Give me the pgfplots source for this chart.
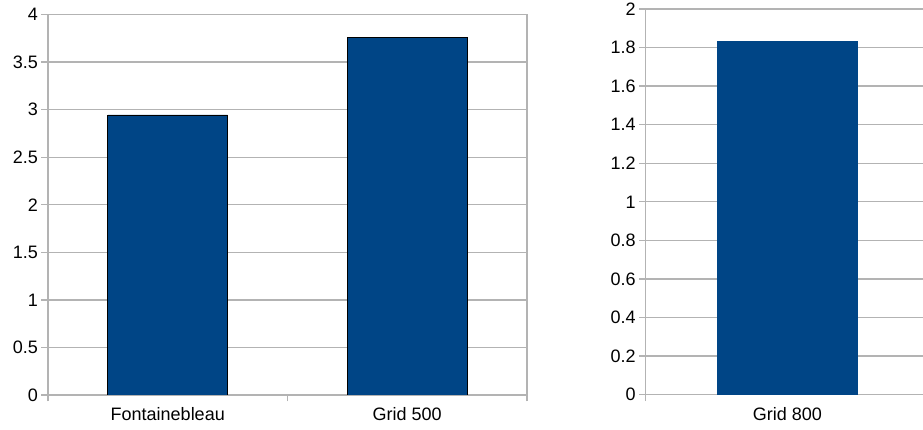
\documentclass[border=0pt]{standalone}
\usepackage{fontspec}
\setmainfont{Liberation Sans}
\usepackage{pgfplots}
\pgfplotsset{compat=1.18}
\definecolor{barblue}{HTML}{004586}
\definecolor{gridgray}{HTML}{B3B3B3}

\pgfplotsset{
  lochart/.style={
    scale only axis,
    anchor=south west,
    ybar,
    bar width=0.5,
    ymin=0,
    axis line style={draw=gridgray, line width=1.3pt},
    ymajorgrids,
    grid style={draw=gridgray, line width=1.3pt},
    tick style={draw=gridgray, line width=1.3pt},
    tick align=outside,
    xtick pos=bottom, ytick pos=left,
    major tick length=6.5pt,
    xticklabels={},
    tick label style={font=\fontsize{18}{21}\selectfont, text=black},
    /pgf/number format/assume math mode=true,
    extra x tick style={
      major tick length=0pt,
      tick style={draw=none},
      xticklabel style={yshift=-9pt},
    },
  },
}

\begin{document}
\begin{tikzpicture}[x=1pt, y=1pt]
  % Left chart: two categories
  \begin{axis}[
    lochart,
    at={(48pt,35pt)},
    width=479pt, height=380.5pt,
    xmin=-0.5, xmax=1.5,
    ymax=4,
    ytick={0,0.5,...,4},
    xtick={-0.5,0.5,1.5},
    extra x ticks={0,1},
    extra x tick labels={Fontainebleau, Grid 500},
  ]
    \addplot[fill=barblue, draw=black, line width=0.8pt]
      coordinates {(0,2.944) (1,3.76)};
  \end{axis}

  % Right chart: one category
  \begin{axis}[
    lochart,
    at={(645.7pt,35.3pt)},
    width=283.5pt, height=385.7pt,
    xmin=-0.5, xmax=0.5,
    ymax=2,
    ytick={0,0.2,...,2},
    xtick={-0.5,0.5},
    extra x ticks={0},
    extra x tick labels={Grid 800},
  ]
    \addplot[fill=barblue, draw=none]
      coordinates {(0,1.836)};
  \end{axis}

  \pgfresetboundingbox
  \path[use as bounding box] (0,0) rectangle (923pt,430pt);
\end{tikzpicture}
\end{document}
